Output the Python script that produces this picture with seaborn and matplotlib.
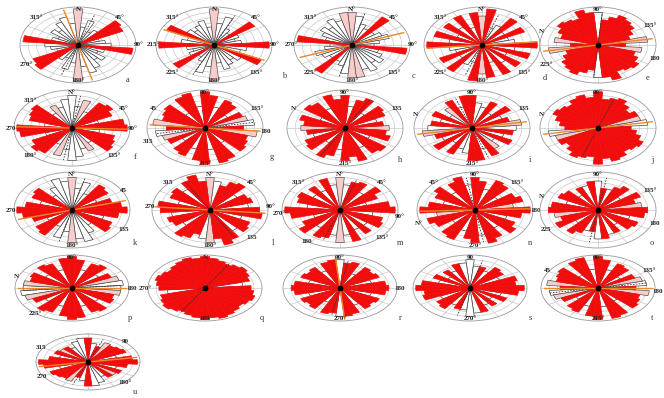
import numpy as np
import matplotlib
matplotlib.use("Agg")
import matplotlib.pyplot as plt
import seaborn as sns

sns.set_theme(style="white")
plt.rcParams['font.family'] = ['Liberation Serif', 'DejaVu Serif']

# bin centres (degrees, axial data mirrored at +180)
bins_deg = list(range(0, 180, 10))

# values per panel (relative frequency, 0..1) and class per bin: r=red, p=pink, w=white
vals_a = [1.0, .5, .7, .4, .5, .95, .9, .4, .5, .6, 1.0, .5, .4, .6, .5, .7, .8, .6]
cls_a = "pwwwwrrwwwrwwwwwww"
vals_b = [1.0, .6, .8, .5, .4, .9, .5, .4, .5, 1.0, .6, .5, .95, .6, .5, .6, .7, .5]
cls_b = "pwwwwrwwwrwwrwwwww"
vals_c = [.9, .8, .6, .5, .95, .5, .6, .7, .5, .4, 1.0, .5, .6, .7, .6, .8, .7, .9]
cls_c = "pwwwrwwwwwrwwwwwwp"
vals_d = [.8, 1.0, .5, .6, .9, .5, .85, .5, .6, 1.0, .6, .9, .5, .85, .6, .9, .5, .9]
cls_d = "prwwrwrwwrwrwrwrwr"
vals_e = [.9, .7, .8, .9, .85, .8, .7, .6, .9, .5, .8, .7, .8, .9, .85, .8, 1.0, .9]
cls_e = "wrrrrrrrprprrrrrrr"
vals_f = [.9, .6, .8, .5, .85, .9, .8, .5, .95, 1.0, .5, .8, .85, .9, .5, .7, .6, .8]
cls_f = "wwpwrrrwrrwrrrwpww"
vals_g = [1.0, .9, .6, .85, .8, .5, .75, .8, .9, .7, .95, .8, .85, .9, .5, .95, 1.0, .6]
cls_g = "rrwrrwrpwrprrrwrrw"
vals_h = [.9, .6, .8, .9, .5, .85, .8, .6, .7, .8, .75, .85, .5, .9, .85, .6, .95, .8]
cls_h = "rwrrwrrwrprrwrrwrr"
vals_i = [.9, .7, .6, .8, .5, .85, .6, .7, .9, .8, .75, .6, .8, .5, .7, .85, .6, .9]
cls_i = "rwwrwrwrpwrwrwprwr"
vals_j = [1.0, .8, .85, .9, .8, .7, .8, .8, .9, .6, .7, .8, .9, .85, .8, .9, .95, .85]
cls_j = "rrrrrrrpwrrrrrrrrr"
vals_k = [.9, .6, .8, .5, .85, .8, .5, .75, .9, 1.0, .85, .6, .8, .85, .5, .7, .9, .8]
cls_k = "pwwwrrwrrrrwrrwwww"
vals_l = [.9, .8, .7, .85, .9, .6, .75, .8, .7, .9, .95, .6, .8, .85, .7, .9, 1.0, .8]
cls_l = "pwrrrwrrwrrwrrwrrr"
vals_m = [.9, .7, .8, .85, .6, .9, .75, .5, .9, 1.0, .6, .8, .85, .6, .8, .6, .9, .7]
cls_m = "pwrrwrrwrrwrrwrwrw"
vals_n = [.9, .8, .6, .9, .85, .5, .8, .9, .7, 1.0, .85, .6, .8, .9, .6, .85, .95, .7]
cls_n = "rrwrrwrrprrwrrwrrw"
vals_o = [.8, .6, .6, .7, .8, .5, .85, .7, .8, .9, .85, .6, .8, .75, .5, .7, .7, .8]
cls_o = "wrwrrwrrprrwrrwrwr"
vals_p = [1.0, .9, .6, .85, .9, .6, .8, .9, .95, .9, .9, .8, .85, .6, .9, .85, .6, .95]
cls_p = "rrwrrwrpwwprrwrrwr"
vals_q = [1.0, .95, .9, .85, .9, .95, .9, .85, .7, .85, .9, .95, .9, .85, .9, .95, 1.0, .95]
cls_q = "rrrrrrrrwrrrrrrrrr"
vals_r = [.9, .8, .85, .5, .8, .75, .8, .6, .85, .9, .85, .6, .8, .75, .8, .6, .85, .9]
cls_r = "wrrwrrrwrrrwrrrwrr"
vals_s = [.9, .7, .7, .6, .8, .75, .6, .9, .85, 1.0, .9, .6, .75, .5, .7, .6, .8, .8]
cls_s = "wwrwrrwrrrrwrwrwrw"
vals_t = [1.0, .9, .6, .85, .8, .5, .75, .85, .9, .7, .95, .8, .85, .9, .5, .95, 1.0, .6]
cls_t = "rrwrrwrpwrprrrwrrw"
vals_u = [.9, .7, .6, .8, .75, .8, .85, .6, .9, 1.0, .8, .6, .75, .7, .7, .6, .8, .9]
cls_u = "rwrprrrwrrrwrprwww"

panel_letters = list("abcdefghijklmnopqrstu")
panel_vals = [vals_a, vals_b, vals_c, vals_d, vals_e, vals_f, vals_g, vals_h, vals_i, vals_j,
              vals_k, vals_l, vals_m, vals_n, vals_o, vals_p, vals_q, vals_r, vals_s, vals_t, vals_u]
panel_cls = [cls_a, cls_b, cls_c, cls_d, cls_e, cls_f, cls_g, cls_h, cls_i, cls_j,
             cls_k, cls_l, cls_m, cls_n, cls_o, cls_p, cls_q, cls_r, cls_s, cls_t, cls_u]

# orange (mean) direction per panel, None if absent
orange_dir = [165, 115, 70, 85, 80, 92, 95, None, 80, 80, 75, 95, None, 88, None, 90, None, 175, None, 90, 80]
# dashed direction per panel
dash_dir = [20, 25, 15, 20, 5, 10, 80, 30, 160, 20, 15, 150, 20, 170, 10, 85, 30, 10, 15, 80, 20]

# compass labels per panel
labels = {
    'a': {0: 'N', 45: '45°', 90: '90°', 180: '180°', 240: '270°', 315: '315°'},
    'b': {0: 'N', 45: '45°', 90: '90°', 135: '135°', 180: '180°', 225: '225°', 270: '215°', 315: '315°'},
    'c': {0: 'N°', 45: '45°', 90: '90°', 135: '135°', 180: '180°', 225: '225°', 270: '270°', 315: '315°'},
    'd': {0: 'N°', 45: '45°', 135: '135°', 180: '180°', 225: '225°', 315: '315°'},
    'e': {0: '90°', 60: '135°', 110: '180', 240: '225°', 290: 'N'},
    'f': {0: 'N°', 60: '45°', 90: '90°', 135: '135°', 225: '180°', 270: '270', 315: '315°'},
    'g': {0: '90°', 60: '135°', 95: '180', 180: '215°', 250: '315', 300: '45'},
    'h': {0: '90°', 60: '135', 180: '215°', 300: 'N'},
    'i': {0: '90°', 60: '135', 180: '215°', 290: 'N'},
    'j': {0: '90°', 290: 'N'},
    'k': {0: 'N°', 60: '45', 120: '135', 180: '180°', 270: '270'},
    'l': {0: 'N°', 45: '45°', 85: '90°', 135: '135', 180: '180°', 275: '270', 315: '315'},
    'm': {0: 'N°', 45: '45°', 100: '90°', 135: '135°', 215: '180', 265: '270°', 315: '315°'},
    'n': {0: '90°', 45: '135°', 90: '180', 180: '270°', 250: 'N°', 315: '45°'},
    'o': {0: '90°', 60: '135°', 110: '180', 240: '225', 290: 'N'},
    'p': {0: '90°', 90: '180', 220: '225°', 290: 'N'},
    'q': {0: 'N', 180: '180', 270: '270°'},
    'r': {0: '90°', 90: '180', 180: '270°'},
    's': {0: '90', 180: '270°'},
    't': {0: '90°', 60: '135°', 95: '180', 180: '215°', 300: '45'},
    'u': {45: '90', 135: '180°', 240: '270', 300: '315'},
}

# layout (pixel centres and sizes) -- figure 664 x 398
centres = [(78, 45), (214, 45), (352, 45), (482, 45), (598, 45),
           (72, 128), (205, 128), (345, 128), (472, 128), (598, 128),
           (72, 210), (210, 210), (340, 210), (475, 210), (598, 210),
           (72, 288), (205, 288), (340, 288), (470, 288), (598, 288),
           (88, 362)]
letter_pos = [(128, 80), (284, 76), (413, 76), (545, 78), (648, 78),
              (135, 157), (272, 157), (400, 160), (530, 160), (652, 160),
              (135, 243), (273, 243), (400, 243), (530, 243), (652, 243),
              (130, 318), (262, 318), (400, 318), (530, 318), (652, 318),
              (135, 392)]

W, H = 664, 398
fig = plt.figure(figsize=(W / 100, H / 100), dpi=100)
fig.patch.set_facecolor('white')

RED = '#f20d0d'
PINK = '#f9cccc'
colmap = {'r': RED, 'p': PINK, 'w': 'white'}
edgemap = {'r': RED, 'p': '#555555', 'w': '#444444'}

theta_all = np.deg2rad(np.array(bins_deg + [b + 180 for b in bins_deg]))
width = np.deg2rad(10)

for i, let in enumerate(panel_letters):
    cx, cy = centres[i]
    if i < 15:
        w, h = 116, 76
    elif i < 20:
        w, h = 114, 66
    else:
        w, h = 104, 56
    ax = fig.add_axes([(cx - w / 2) / W, 1 - (cy + h / 2) / H, w / W, h / H], projection='polar')
    ax.set_aspect('auto')
    ax.set_theta_zero_location('N')
    ax.set_theta_direction(-1)
    v = panel_vals[i] + panel_vals[i]
    c = panel_cls[i] + panel_cls[i]
    for kind in ['w', 'p', 'r']:
        idx = [k for k, cc in enumerate(c) if cc == kind]
        if not idx:
            continue
        ax.bar(theta_all[idx], [v[k] for k in idx], width=width, bottom=0,
               color=colmap[kind], edgecolor=edgemap[kind], linewidth=0.5, zorder=3 if kind == 'r' else 2)
    d = np.deg2rad(dash_dir[i])
    for dd in (d, d + np.pi):
        ax.plot([dd, dd], [0, 0.9], color='#333333', lw=0.6, ls=(0, (2, 1.5)), zorder=4)
    if orange_dir[i] is not None:
        o = np.deg2rad(orange_dir[i])
        for oo in (o, o + np.pi):
            ax.plot([oo, oo], [0, 1.0], color='#e8892a', lw=1.0, zorder=5)
    ax.scatter([0], [0], s=10, color='black', zorder=6)
    ax.set_ylim(0, 1.05)
    ax.set_rticks([0.15, 0.3, 0.45, 0.6, 0.75, 0.9])
    ax.set_yticklabels([])
    ax.set_thetagrids(np.arange(0, 360, 30), labels=[])
    ax.grid(True, color='#c8c8c8', lw=0.5)
    ax.spines['polar'].set_color('#999999')
    ax.spines['polar'].set_linewidth(0.6)
    ax.set_facecolor('white')
    for ang, txt in labels[let].items():
        rr = 0.98 + 0.12 * abs(np.sin(np.deg2rad(ang)))
        ax.text(np.deg2rad(ang), rr, txt, fontsize=5, fontweight='bold',
                ha='center', va='center', color='#222222', zorder=7, clip_on=False)
    lx, ly = letter_pos[i]
    fig.text(lx / W, 1 - ly / H, let, fontsize=6, ha='center', va='center', color='#333333')

fig.savefig('out.png', dpi=100, facecolor='white')
